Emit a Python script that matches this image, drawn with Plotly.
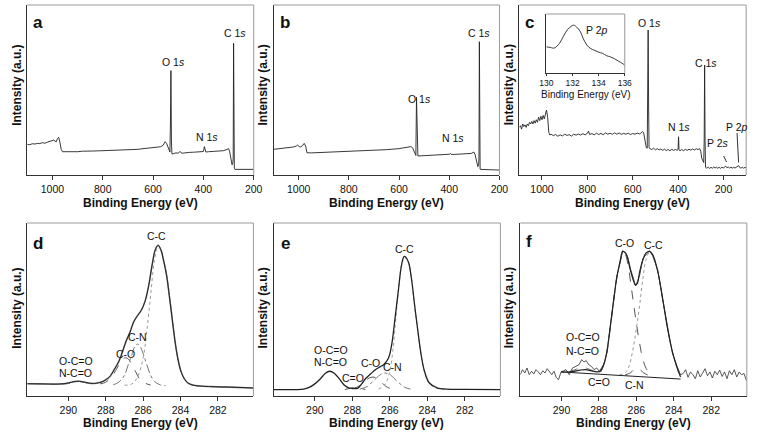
import plotly.graph_objects as go

W, H = 762, 435
FONT = "Liberation Sans, Arial, sans-serif"

# ---------------- survey spectra (a, b, c) ----------------
a_be = [1100, 1090, 1080, 1070, 1060, 1050, 1040, 1030, 1020, 1010, 1000, 995, 990, 985, 980, 975, 970, 965, 960,
        940, 920, 900, 880, 860, 840, 820, 800, 780, 760, 740, 720, 700, 680, 660, 640, 620, 600, 590, 580, 570,
        560, 552, 546, 540, 536, 533, 531, 529, 527, 525, 520, 510, 500, 493, 485, 470, 455, 440, 425, 410, 400,
        396, 393, 390, 380, 360, 340, 320, 310, 305, 300, 296, 292, 289, 286, 283, 281.5, 280, 278.5, 277, 275,
        260, 240, 220, 200]
a_int = [0.180, 0.178, 0.184, 0.182, 0.186, 0.185, 0.190, 0.187, 0.193, 0.196, 0.199, 0.205, 0.200, 0.195, 0.215,
         0.222, 0.190, 0.150, 0.137, 0.136, 0.138, 0.137, 0.140, 0.139, 0.141, 0.142, 0.143, 0.144, 0.146, 0.145,
         0.148, 0.150, 0.152, 0.151, 0.155, 0.157, 0.160, 0.161, 0.163, 0.166, 0.175, 0.196, 0.185, 0.160, 0.140,
         0.135, 0.300, 0.614, 0.200, 0.124, 0.125, 0.130, 0.129, 0.138, 0.128, 0.132, 0.133, 0.134, 0.136, 0.135,
         0.138, 0.167, 0.140, 0.135, 0.137, 0.138, 0.140, 0.143, 0.148, 0.153, 0.155, 0.140, 0.108, 0.080, 0.060,
         0.070, 0.100, 0.775, 0.100, 0.040, 0.033, 0.033, 0.034, 0.033, 0.033]

b_be = [1100, 1080, 1060, 1040, 1020, 1010, 1004, 998, 993, 985, 978, 972, 967, 950, 900, 850, 800, 750, 700, 650,
        600, 570, 560, 553, 546, 540, 536, 533, 530.5, 528, 525, 510, 480, 450, 420, 400, 395, 392, 380, 350, 320,
        312, 305, 302, 297, 293, 289, 286, 283, 281.5, 280, 278.5, 277, 275, 250, 225, 200]
b_int = [0.151, 0.154, 0.157, 0.161, 0.165, 0.170, 0.176, 0.168, 0.165, 0.172, 0.186, 0.170, 0.131, 0.130, 0.133,
         0.136, 0.137, 0.141, 0.145, 0.149, 0.155, 0.160, 0.165, 0.167, 0.160, 0.135, 0.118, 0.115, 0.457, 0.200,
         0.112, 0.113, 0.116, 0.118, 0.120, 0.122, 0.127, 0.121, 0.121, 0.123, 0.126, 0.127, 0.133, 0.135, 0.120,
         0.088, 0.060, 0.049, 0.055, 0.100, 0.784, 0.100, 0.034, 0.033, 0.031, 0.030, 0.029]

c_be = [1100, 1095, 1090, 1085, 1080, 1075, 1070, 1065, 1060, 1055, 1050, 1045, 1040, 1035, 1030, 1025, 1020, 1015,
        1010, 1005, 1000, 995, 990, 985, 980, 975, 970, 965, 960, 950, 940, 930, 920, 910, 900, 890, 880, 870, 860,
        850, 840, 830, 820, 810, 800, 795, 790, 780, 770, 760, 750, 740, 730, 720, 710, 700, 690, 680, 670, 660,
        650, 640, 630, 620, 610, 600, 590, 580, 570, 565, 558, 552, 546, 540, 536, 534, 532, 530, 528, 524, 516,
        508, 500, 492, 484, 476, 468, 460, 452, 444, 436, 428, 420, 412, 404, 400, 398, 396, 392, 384, 376, 368,
        360, 352, 344, 336, 328, 320, 312, 305, 300, 296, 291, 287, 285, 283, 281, 279, 273, 267, 261, 255, 249,
        243, 237, 231, 225, 219, 213, 207, 201, 195, 190, 185, 179, 173, 167, 161, 155, 149, 143, 137, 133, 129,
        123, 117, 111, 105, 100]
c_int = [0.280, 0.290, 0.270, 0.300, 0.285, 0.295, 0.280, 0.300, 0.290, 0.310, 0.300, 0.315, 0.300, 0.320, 0.305,
         0.325, 0.310, 0.340, 0.320, 0.345, 0.325, 0.350, 0.330, 0.360, 0.382, 0.340, 0.250, 0.235, 0.240, 0.232,
         0.238, 0.228, 0.236, 0.230, 0.240, 0.233, 0.237, 0.229, 0.240, 0.234, 0.241, 0.235, 0.243, 0.236, 0.245,
         0.258, 0.238, 0.244, 0.236, 0.246, 0.238, 0.245, 0.237, 0.248, 0.240, 0.246, 0.239, 0.248, 0.240, 0.247,
         0.239, 0.245, 0.240, 0.246, 0.238, 0.244, 0.240, 0.246, 0.242, 0.245, 0.255, 0.250, 0.190, 0.160, 0.158,
         0.500, 0.853, 0.400, 0.160, 0.155, 0.150, 0.158, 0.148, 0.155, 0.147, 0.153, 0.145, 0.152, 0.144, 0.150,
         0.143, 0.151, 0.145, 0.150, 0.146, 0.150, 0.225, 0.150, 0.142, 0.150, 0.143, 0.151, 0.145, 0.152, 0.146,
         0.153, 0.147, 0.154, 0.150, 0.155, 0.140, 0.100, 0.085, 0.073, 0.200, 0.647, 0.200, 0.045, 0.040, 0.046,
         0.039, 0.045, 0.040, 0.047, 0.041, 0.046, 0.040, 0.045, 0.039, 0.046, 0.041, 0.048, 0.052, 0.043, 0.047,
         0.041, 0.046, 0.040, 0.045, 0.041, 0.046, 0.050, 0.055, 0.045, 0.040, 0.046, 0.040, 0.045, 0.042]

# inset P 2p
p2p_be = [130.0, 130.3, 130.6, 131.0, 131.3, 131.6, 131.9, 132.1, 132.3, 132.6, 132.8, 133.1, 133.4, 133.7, 134.0,
          134.3, 134.6, 134.9, 135.2, 135.5, 135.8, 136.0]
p2p_int = [0.44, 0.43, 0.42, 0.50, 0.62, 0.73, 0.79, 0.81, 0.78, 0.70, 0.59, 0.47, 0.41, 0.38, 0.35, 0.33, 0.29,
           0.27, 0.24, 0.20, 0.16, 0.13]

# ---------------- C 1s high resolution (d) ----------------
d_be = [292.2, 291.5, 291.0, 290.5, 290.0, 289.7, 289.4, 289.1, 288.8, 288.5, 288.2, 288.0, 287.8, 287.55, 287.3,
        287.1, 286.9, 286.7, 286.5, 286.3, 286.1, 285.9, 285.7, 285.5, 285.35, 285.2, 285.05, 284.9, 284.75, 284.6,
        284.45, 284.3, 284.15, 284.0, 283.8, 283.6, 283.3, 283.0, 282.5, 282.0, 281.0, 280.1]
d_env = [0.071, 0.070, 0.069, 0.069, 0.075, 0.083, 0.085, 0.079, 0.073, 0.074, 0.082, 0.094, 0.110, 0.152, 0.200,
         0.258, 0.320, 0.370, 0.430, 0.465, 0.495, 0.547, 0.640, 0.770, 0.845, 0.871, 0.845, 0.780, 0.700, 0.580,
         0.450, 0.320, 0.220, 0.150, 0.100, 0.075, 0.062, 0.058, 0.055, 0.053, 0.050, 0.046]
d_cc_be = [287.0, 286.6, 286.3, 286.0, 285.8, 285.6, 285.4, 285.2, 285.05, 284.9, 284.75, 284.6, 284.45, 284.3,
           284.15, 284.0, 283.8, 283.5, 283.0]
d_cc = [0.062, 0.070, 0.110, 0.220, 0.380, 0.580, 0.780, 0.865, 0.845, 0.785, 0.705, 0.590, 0.460, 0.330, 0.230,
        0.155, 0.100, 0.068, 0.057]
d_cn_be = [287.6, 287.3, 287.0, 286.8, 286.6, 286.45, 286.3, 286.15, 286.0, 285.8, 285.6, 285.4, 285.1, 284.8]
d_cn = [0.065, 0.080, 0.120, 0.180, 0.240, 0.285, 0.300, 0.285, 0.245, 0.180, 0.120, 0.085, 0.065, 0.060]
d_co_be = [288.3, 288.0, 287.7, 287.4, 287.2, 287.0, 286.8, 286.6, 286.4, 286.2, 285.9, 285.6]
d_co = [0.070, 0.080, 0.110, 0.160, 0.200, 0.220, 0.215, 0.180, 0.140, 0.100, 0.075, 0.063]
d_oco_be = [290.4, 290.0, 289.7, 289.5, 289.3, 289.0, 288.7]
d_oco = [0.069, 0.072, 0.080, 0.085, 0.082, 0.075, 0.070]

# ---------------- C 1s high resolution (e) ----------------
e_be = [292.2, 291.0, 290.6, 290.3, 290.0, 289.7, 289.45, 289.2, 288.95, 288.7, 288.45, 288.2, 288.0, 287.7, 287.5,
        287.3, 287.0, 286.77, 286.5, 286.33, 286.07, 285.9, 285.72, 285.55, 285.37, 285.23, 285.02, 284.85, 284.68,
        284.5, 284.33, 284.15, 283.89, 283.45, 283.0, 282.0, 280.1]
e_env = [0.037, 0.037, 0.040, 0.050, 0.070, 0.100, 0.130, 0.143, 0.130, 0.100, 0.065, 0.047, 0.044, 0.046, 0.070,
         0.100, 0.130, 0.152, 0.170, 0.181, 0.220, 0.297, 0.451, 0.605, 0.759, 0.807, 0.778, 0.682, 0.528, 0.374,
         0.239, 0.143, 0.075, 0.046, 0.040, 0.038, 0.037]
e_cc_be = [286.6, 286.3, 286.05, 285.85, 285.7, 285.55, 285.37, 285.23, 285.02, 284.85, 284.68, 284.5, 284.33,
           284.15, 283.89, 283.45, 283.0]
e_cc = [0.040, 0.060, 0.120, 0.250, 0.420, 0.600, 0.756, 0.803, 0.775, 0.679, 0.525, 0.371, 0.236, 0.140, 0.072,
        0.043, 0.038]
e_cn_be = [287.6, 287.2, 286.9, 286.6, 286.4, 286.25, 286.0, 285.8, 285.5, 285.2, 284.9]
e_cn = [0.040, 0.055, 0.085, 0.115, 0.130, 0.133, 0.125, 0.105, 0.075, 0.050, 0.040]
e_co_be = [288.0, 287.6, 287.3, 287.0, 286.8, 286.6, 286.4, 286.2, 285.9]
e_co = [0.040, 0.060, 0.090, 0.108, 0.108, 0.095, 0.075, 0.055, 0.040]
e_cdo_be = [288.4, 288.1, 287.85, 287.6, 287.3]
e_cdo = [0.037, 0.045, 0.048, 0.044, 0.038]

# ---------------- C 1s high resolution (f) ----------------
f_raw_be = [292.2, 292.08, 291.96, 291.84, 291.72, 291.6, 291.48, 291.36, 291.24, 291.12, 291.0, 290.88, 290.76,
            290.64, 290.52, 290.4, 290.28, 290.16, 290.02, 289.76, 289.59, 289.41, 289.24, 289.06, 288.92, 288.8,
            288.68, 288.54, 288.4, 288.26, 288.12, 287.98, 287.84, 287.7, 287.58, 287.4, 287.22, 287.05, 286.87,
            286.73, 286.6, 286.45, 286.3, 286.17, 286.05, 285.95, 285.82, 285.65, 285.48, 285.3, 285.13, 284.86,
            284.6, 284.34, 284.08, 283.82, 283.64, 283.5, 283.37, 283.24, 283.11, 282.98, 282.85, 282.72, 282.59,
            282.46, 282.33, 282.2, 282.07, 281.94, 281.81, 281.68, 281.55, 281.42, 281.29, 281.16, 281.03, 280.9,
            280.77, 280.64, 280.51, 280.38, 280.25, 280.12]
f_raw = [0.123, 0.152, 0.133, 0.162, 0.123, 0.143, 0.127, 0.152, 0.139, 0.123, 0.146, 0.133, 0.158, 0.139, 0.123,
         0.143, 0.108, 0.094, 0.139, 0.152, 0.123, 0.162, 0.171, 0.181, 0.210, 0.197, 0.204, 0.181, 0.171, 0.152,
         0.162, 0.143, 0.166, 0.191, 0.249, 0.400, 0.540, 0.690, 0.770, 0.840, 0.825, 0.800, 0.730, 0.680, 0.640,
         0.660, 0.700, 0.795, 0.820, 0.840, 0.810, 0.730, 0.560, 0.400, 0.250, 0.170, 0.123, 0.130, 0.152, 0.108,
         0.139, 0.123, 0.100, 0.146, 0.110, 0.133, 0.158, 0.117, 0.139, 0.104, 0.143, 0.123, 0.150, 0.113, 0.139,
         0.100, 0.146, 0.123, 0.152, 0.110, 0.139, 0.123, 0.130, 0.088]
f_fit_be = [290.02, 289.5, 289.0, 288.7, 288.4, 288.1, 287.92, 287.75, 287.57, 287.4, 287.22, 287.05, 286.87,
            286.73, 286.6, 286.52, 286.35, 286.17, 286.05, 285.95, 285.82, 285.65, 285.48, 285.3, 285.13, 284.86,
            284.6, 284.34, 284.08, 283.82, 283.64]
f_fit = [0.139, 0.140, 0.150, 0.152, 0.145, 0.140, 0.143, 0.181, 0.258, 0.393, 0.547, 0.682, 0.778, 0.836, 0.830,
         0.817, 0.740, 0.672, 0.640, 0.650, 0.721, 0.788, 0.827, 0.836, 0.817, 0.721, 0.566, 0.393, 0.258, 0.162,
         0.110]
f_base_be = [290.02, 283.64]
f_base = [0.139, 0.098]
f_co_be = [287.9, 287.75, 287.57, 287.4, 287.22, 287.05, 286.87, 286.73, 286.6, 286.45, 286.3, 286.17, 286.0,
           285.82, 285.65, 285.48, 285.3, 285.13]
f_co = [0.140, 0.178, 0.255, 0.390, 0.545, 0.680, 0.775, 0.830, 0.820, 0.760, 0.650, 0.550, 0.420, 0.300, 0.210,
        0.160, 0.135, 0.125]
f_cc_be = [286.9, 286.6, 286.4, 286.2, 286.0, 285.82, 285.65, 285.48, 285.3, 285.13, 284.86, 284.6, 284.34, 284.08,
           283.82, 283.64]
f_cc = [0.122, 0.135, 0.170, 0.260, 0.390, 0.530, 0.680, 0.790, 0.830, 0.815, 0.718, 0.563, 0.390, 0.255, 0.158,
        0.115]
f_cn_be = [286.6, 286.3, 286.1, 285.95, 285.8, 285.6, 285.4]
f_cn = [0.122, 0.135, 0.155, 0.160, 0.152, 0.133, 0.122]
f_oco_be = [289.6, 289.2, 288.9, 288.6, 288.3]
f_oco = [0.140, 0.155, 0.165, 0.158, 0.145]

# ---------------- layout geometry (page pixels) ----------------
TOP_Y = (5, 175)
BOT_Y = (223, 396)
panels = {
    "a": ((20.7, 252.0), TOP_Y),
    "b": ((272.3, 503.0), TOP_Y),
    "c": ((523.3, 755.0), TOP_Y),
    "d": ((20.7, 251.7), BOT_Y),
    "e": ((272.3, 504.0), BOT_Y),
    "f": ((524.3, 755.7), BOT_Y),
    "in": ((551.0, 631.0), (14.0, 72.7)),
}
order = ["a", "b", "c", "d", "e", "f", "in"]


def xdom(px):
    return [px[0] / W, px[1] / W]


def ydom(py):
    return [1 - py[1] / H, 1 - py[0] / H]


fig = go.Figure()
DARK = "#222222"


def add(idx, x, y, color=DARK, width=1.0, dash="solid", shape="linear"):
    sfx = "" if idx == 1 else str(idx)
    fig.add_trace(go.Scatter(x=x, y=y, mode="lines", xaxis="x" + sfx, yaxis="y" + sfx,
                             line=dict(color=color, width=width, dash=dash, shape=shape),
                             showlegend=False, hoverinfo="skip"))


add(1, a_be, a_int, width=0.9)
add(2, b_be, b_int, width=0.9)
add(3, c_be, c_int, width=0.9)
add(7, p2p_be, p2p_int, width=0.9, shape="spline")

# d
add(4, d_oco_be, d_oco, color="#555555", dash="dash", shape="spline")
add(4, d_co_be, d_co, color="#555555", dash="dash", shape="spline")
add(4, d_cn_be, d_cn, color="#777777", dash="dashdot", shape="spline")
add(4, d_cc_be, d_cc, color="#999999", dash="dot", shape="spline")
add(4, d_be, d_env, color="#888888", width=1.6, shape="spline")
add(4, d_be, d_env, color=DARK, width=1.0, shape="spline")
# e
add(5, e_cdo_be, e_cdo, color="#555555", dash="dash", shape="spline")
add(5, e_co_be, e_co, color="#555555", dash="dash", shape="spline")
add(5, e_cn_be, e_cn, color="#777777", dash="dashdot", shape="spline")
add(5, e_cc_be, e_cc, color="#999999", dash="dot", shape="spline")
add(5, e_be, e_env, color=DARK, width=1.3, shape="spline")
# f
add(6, f_oco_be, f_oco, color="#777777", dash="dash", shape="spline")
add(6, f_cn_be, f_cn, color="#555555", dash="dash", shape="spline")
add(6, f_co_be, f_co, color="#555555", dash="dash", shape="spline")
add(6, f_cc_be, f_cc, color="#999999", dash="dot", shape="spline")
add(6, f_raw_be, f_raw, color="#444444", width=0.9)
add(6, f_base_be, f_base, color=DARK, width=1.0)
add(6, f_fit_be, f_fit, color=DARK, width=1.2, shape="spline")

layout = dict(width=W, height=H, margin=dict(l=0, r=0, t=0, b=0),
              paper_bgcolor="white", plot_bgcolor="white", showlegend=False,
              font=dict(family=FONT, color="#111111"))

xr = {"a": [1100, 200], "b": [1100, 200], "c": [1100, 100],
      "d": [292.2, 280.1], "e": [292.2, 280.1], "f": [292.2, 280.1], "in": [130, 136]}
xt = {"a": [1000, 800, 600, 400, 200], "b": [1000, 800, 600, 400, 200], "c": [1000, 800, 600, 400, 200],
      "d": [290, 288, 286, 284, 282], "e": [290, 288, 286, 284, 282], "f": [290, 288, 286, 284, 282],
      "in": [130, 132, 134, 136]}

shapes = []
for i, k in enumerate(order, start=1):
    sfx = "" if i == 1 else str(i)
    (px, py) = panels[k]
    small = (k == "in")
    layout["xaxis" + sfx] = dict(domain=xdom(px), range=xr[k], anchor="y" + sfx, tickvals=xt[k],
                                 showgrid=False, zeroline=False, showline=True, linecolor="#333333",
                                 linewidth=1, ticks="outside", ticklen=2 if small else 4, tickcolor="#333333",
                                 tickfont=dict(size=8.5 if small else 10.5, family=FONT, color="#111111"))
    layout["yaxis" + sfx] = dict(domain=ydom(py), range=[0, 1], anchor="x" + sfx, showgrid=False,
                                 zeroline=False, showline=True, linecolor="#333333", linewidth=1,
                                 showticklabels=False, ticks="")
    x0, x1 = px[0] / W, px[1] / W
    y0, y1 = 1 - py[1] / H, 1 - py[0] / H
    shapes.append(dict(type="line", xref="paper", yref="paper", x0=x0, x1=x1, y0=y1, y1=y1,
                       line=dict(color="#999999", width=1)))
    shapes.append(dict(type="line", xref="paper", yref="paper", x0=x1, x1=x1, y0=y0, y1=y1,
                       line=dict(color="#999999", width=1)))

# pointer lines in c
for (xa, ya, xb, yb) in [(732, 156, 735, 162), (745.7, 133, 747.3, 162.5)]:
    shapes.append(dict(type="line", xref="paper", yref="paper", x0=xa / W, x1=xb / W, y0=1 - ya / H,
                       y1=1 - yb / H, line=dict(color="#333333", width=1)))
layout["shapes"] = shapes

anns = []


def ann(text, px, py, size=10.5, bold=False, angle=0, color="#111111"):
    if bold:
        text = "<b>" + text + "</b>"
    anns.append(dict(text=text, x=px / W, y=1 - py / H, xref="paper", yref="paper", showarrow=False,
                     font=dict(size=size, family=FONT, color=color), textangle=angle,
                     xanchor="center", yanchor="middle"))


# panel letters
for lt, x, y in [("a", 31.5, 23), ("b", 284, 23), ("c", 534, 23), ("d", 31.5, 243), ("e", 284, 243),
                 ("f", 533.5, 242)]:
    ann(lt, x, y, size=17, bold=True)

# axis titles
for k in ["a", "b", "c"]:
    px = panels[k][0]
    ann("Binding Energy (eV)", (px[0] + px[1]) / 2, 203, size=12, bold=True)
for k in ["d", "e", "f"]:
    px = panels[k][0]
    ann("Binding Energy (eV)", (px[0] + px[1]) / 2, 423, size=12, bold=True)
for x in [10, 262, 513]:
    ann("Intensity (a.u.)", x, 85, size=12, bold=True, angle=-90)
    ann("Intensity (a.u.)", x, 308, size=12, bold=True, angle=-90)
ann("Binding Energy (eV)", 591, 94, size=10)

# peak labels
ann("C 1<i>s</i>", 233, 33)
ann("O 1<i>s</i>", 170, 62)
ann("N 1<i>s</i>", 204, 137)
ann("C 1<i>s</i>", 482, 33)
ann("O 1<i>s</i>", 421, 99)
ann("N 1<i>s</i>", 456, 138)
ann("O 1<i>s</i>", 656, 23)
ann("C 1<i>s</i>", 714, 63)
ann("N 1<i>s</i>", 686, 127)
ann("P 2<i>s</i>", 726, 143)
ann("P 2<i>p</i>", 746, 127)
ann("P 2<i>p</i>", 603, 30)

ann("C-C", 153, 236)
ann("C-N", 133, 337)
ann("C-O", 121.5, 354)
ann("O-C=O", 70, 361)
ann("N-C=O", 70, 373)

ann("C-C", 406.5, 249)
ann("O-C=O", 330.5, 350)
ann("N-C=O", 330.5, 362)
ann("C=O", 353, 378)
ann("C-O", 371, 363)
ann("C-N", 394, 367)

ann("C-O", 631, 243)
ann("C-C", 660, 244.5)
ann("O-C=O", 588, 337)
ann("N-C=O", 588, 350.5)
ann("C=O", 604.5, 382)
ann("C-N", 641, 384.5)

layout["annotations"] = anns
fig.update_layout(**layout)
fig.write_html("out.html", config={"displayModeBar": False, "staticPlot": True},
               post_script="document.body.style.margin='0px';document.body.style.padding='0px';"
                           "document.body.style.overflow='hidden';")
